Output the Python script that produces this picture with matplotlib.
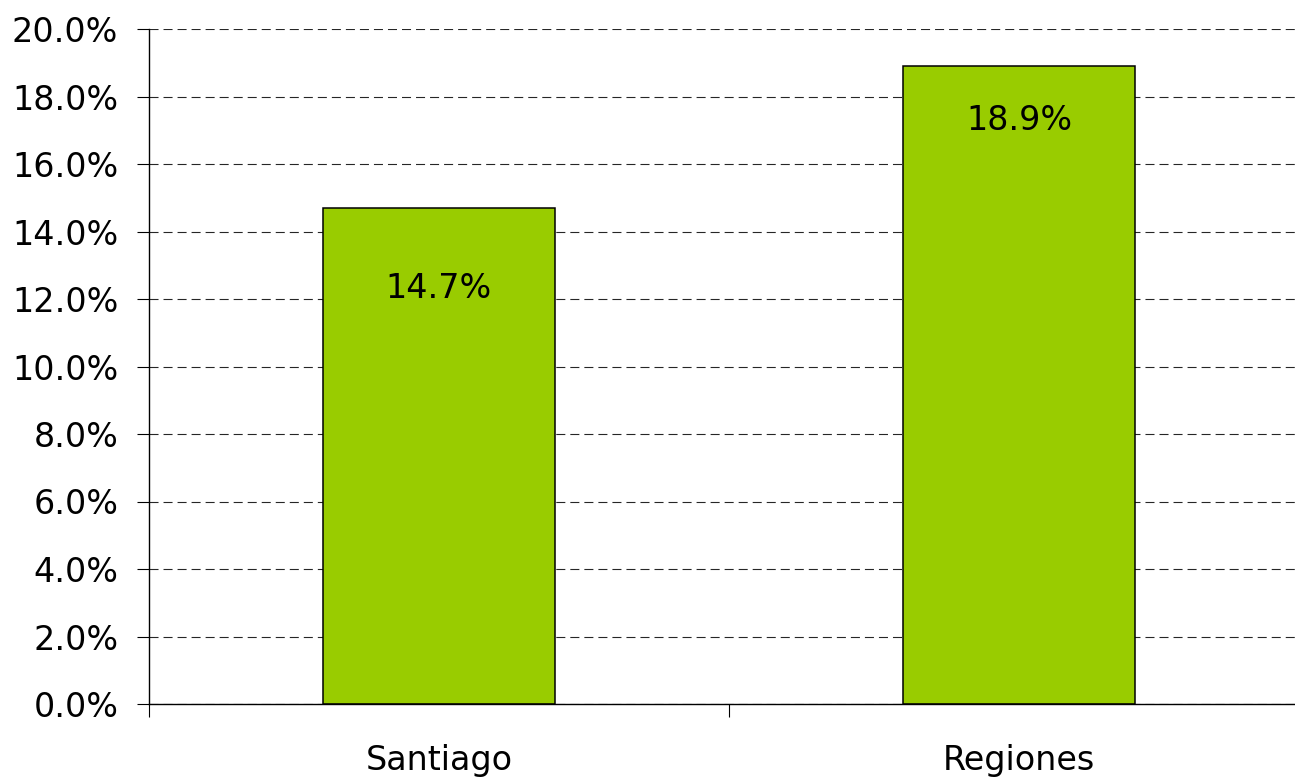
import matplotlib
matplotlib.use("Agg")
import matplotlib.pyplot as plt
from matplotlib.ticker import FuncFormatter, FixedLocator

categories = ["Santiago", "Regiones"]
values = [14.7, 18.9]
value_labels = ["14.7%", "18.9%"]
y_ticks = [0, 2, 4, 6, 8, 10, 12, 14, 16, 18, 20]

plt.rcParams['font.family'] = ['DejaVu Sans']
plt.rcParams['lines.scale_dashes'] = False

W, H = 1295, 778
fig = plt.figure(figsize=(W / 100, H / 100), dpi=100)
ax = fig.add_axes([149 / W, (H - 704) / H, (1309 - 149) / W, (704 - 29) / H])

x = list(range(len(categories)))
bars = ax.bar(x, values, width=0.4, color="#99CC00", edgecolor="black",
              linewidth=1.1, zorder=3)

ax.set_xlim(-0.5, len(categories) - 0.5)
ax.set_ylim(0, 20)
ax.set_yticks(y_ticks)
ax.yaxis.set_major_formatter(FuncFormatter(lambda v, p: f"{v:.1f}%"))
ax.yaxis.grid(True, color="0.15", linestyle=(0, (6.5, 3.6)), linewidth=0.8, zorder=0)

ax.set_xticks(x)
ax.set_xticklabels(categories)
ax.xaxis.set_minor_locator(FixedLocator([i - 0.5 for i in range(len(categories) + 1)]))
ax.tick_params(axis="x", which="major", length=0, pad=29, labelsize=24)
ax.tick_params(axis="x", which="minor", length=9.5, width=0.8, direction="out")
ax.tick_params(axis="y", which="major", length=8.6, width=0.8, direction="out",
               pad=13.5, labelsize=24)

for s in ["top", "right"]:
    ax.spines[s].set_visible(False)
for s in ["left", "bottom"]:
    ax.spines[s].set_linewidth(1.0)
    ax.spines[s].set_zorder(4)

label_offsets_pt = [-58, -39]
for xi, v, lab, off in zip(x, values, value_labels, label_offsets_pt):
    ax.annotate(lab, (xi, v), xytext=(0, off), textcoords="offset points",
                ha="center", va="center", fontsize=24, zorder=5)

fig.savefig("out.png", dpi=100)
